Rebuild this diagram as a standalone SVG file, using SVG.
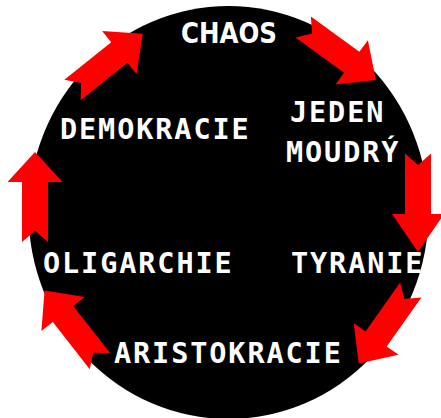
<svg xmlns="http://www.w3.org/2000/svg" xmlns:xlink="http://www.w3.org/1999/xlink" width="441" height="418" viewBox="0 0 441 418">
  <style>
    .lbl { fill: #ffffff; font-family: "DejaVu Sans Mono", "Liberation Mono", monospace; font-weight: bold; font-size: 28.5px; letter-spacing: 1.9px; }
    .lbl2 { fill: #ffffff; font-family: "DejaVu Sans", "Liberation Sans", sans-serif; font-weight: bold; font-size: 28px; }
    .arr { fill: #ff0000; stroke: none; }
  </style>
  <defs>
    <polygon id="arrow" points="0,-13 60,-13 60,-27.5 90,0 60,27.5 60,13 0,13 11,0"/>
  </defs>
  <rect width="441" height="418" fill="#ffffff"/>
  <ellipse id="cycle" cx="228.5" cy="212.5" rx="200" ry="206.5" fill="#000000"/>
  <g id="chaos"><text class="lbl2" x="181" y="43" textLength="96" lengthAdjust="spacingAndGlyphs">CHAOS</text></g>
  <g id="jeden-moudry">
    <text class="lbl" x="290" y="122">JEDEN</text>
    <text class="lbl" x="286" y="162">MOUDRÝ</text>
  </g>
  <g id="demokracie"><text class="lbl" x="60" y="139">DEMOKRACIE</text></g>
  <g id="oligarchie"><text class="lbl" x="43" y="273">OLIGARCHIE</text></g>
  <g id="tyranie"><text class="lbl" x="291" y="273">TYRANIE</text></g>
  <g id="aristokracie"><text class="lbl" x="114" y="363">ARISTOKRACIE</text></g>
  <g id="connectors" class="arr">
    <use xlink:href="#arrow" transform="translate(72.5,90) rotate(-38.7)"/>
    <use xlink:href="#arrow" transform="translate(303.2,27) rotate(36.1)"/>
    <polygon points="405,153.5 418,165 431,153.5 431,214 444,214 418,252 392,214 405,214"/>
    <use xlink:href="#arrow" transform="translate(410.8,290) rotate(125.3)"/>
    <use xlink:href="#arrow" transform="translate(100,361.3) rotate(-128)"/>
    <use xlink:href="#arrow" transform="translate(35,242) rotate(-90)"/>
  </g>
</svg>
